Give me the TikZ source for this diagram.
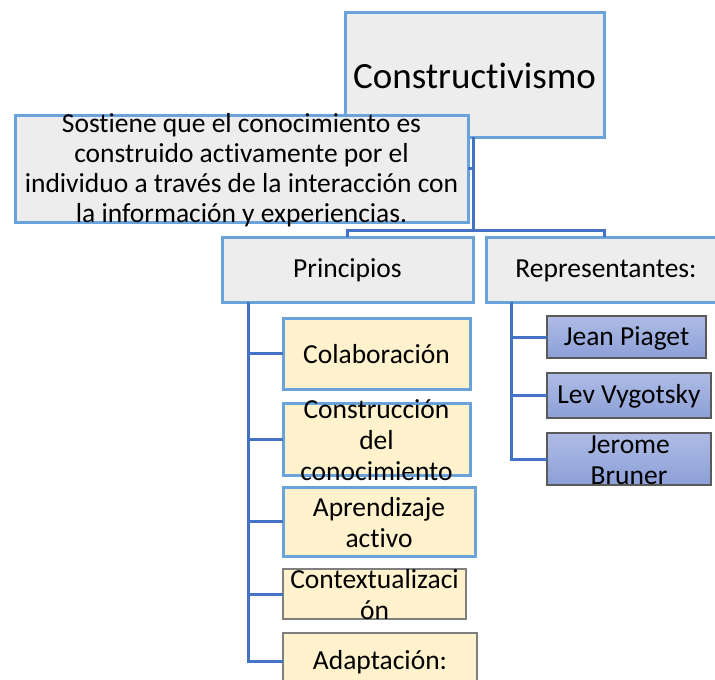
\documentclass[tikz,border=0pt]{standalone}
\usepackage{fontspec}
\setmainfont{Carlito}[Ligatures={NoCommon}]
\definecolor{grayfill}{HTML}{EDEDED}
\definecolor{boxblue}{HTML}{6AA3DA}
\definecolor{yellowfill}{HTML}{FFF2CC}
\definecolor{connblue}{HTML}{4472C4}
\definecolor{ptop}{HTML}{AEBCE5}
\definecolor{pbot}{HTML}{8C9FD7}
\definecolor{pborder}{HTML}{5A5A5A}
\definecolor{gborder}{HTML}{7F7F7F}
\tikzset{
  base/.style={rectangle, inner sep=0pt, outer sep=0pt},
  mainbox/.style={base, draw=boxblue, line width=3pt, fill=grayfill},
  ybox/.style={base, draw=boxblue, line width=3pt, fill=yellowfill},
  ygbox/.style={base, draw=gborder, line width=1.5pt, fill=yellowfill},
  pbox/.style={base, draw=pborder, line width=1.2pt, top color=ptop, bottom color=pbot},
  txt/.style={inner sep=0pt, align=center, font=\fontsize{27.5}{31}\selectfont},
  conn/.style={draw=connblue, line width=3pt},
}
\begin{document}
\begin{tikzpicture}[x=1pt,y=-1pt]
\useasboundingbox (0,0) rectangle (715,680);
\clip (0,0) rectangle (715,680);
% boxes
\node[mainbox, minimum width=259pt, minimum height=125pt] (cons) at (474.5,74.5) {};
\node[mainbox, minimum width=453pt, minimum height=107pt] (sost) at (241.5,168.5) {};
\node[mainbox, minimum width=251pt, minimum height=65pt] (prin) at (347.5,269.5) {};
\node[mainbox, minimum width=236pt, minimum height=65pt] (repr) at (604,269.5) {};
\node[ybox, minimum width=187pt, minimum height=71pt] (col) at (376.5,353.5) {};
\node[ybox, minimum width=187pt, minimum height=72pt] (constr) at (376.5,439) {};
\node[ybox, minimum width=192pt, minimum height=69pt] (apr) at (379,521.5) {};
\node[ygbox, minimum width=183pt, minimum height=50pt] (ctx) at (374.5,594) {};
\node[ygbox, minimum width=194pt, minimum height=57pt] (adap) at (380,661.5) {};
\node[pbox, minimum width=159pt, minimum height=42pt] (jean) at (626.5,337) {};
\node[pbox, minimum width=164pt, minimum height=45pt] (lev) at (629,395.5) {};
\node[pbox, minimum width=164pt, minimum height=52pt] (jer) at (629,459) {};
% texts
\node[txt, font=\fontsize{37}{44}\selectfont] (tcons) at (474.5,75.5) {Constructivismo};
\node[txt, font=\fontsize{27.5}{30}\selectfont] (tsost) at (241.5,170) {Sostiene que el conocimiento es\\construido activamente por el\\individuo a través de la interacción con\\la información y experiencias.};
\node[txt] (tprin) at (347.5,270.5) {Principios};
\node[txt] (trepr) at (606,270.5) {Representantes:};
\node[txt] (tcol) at (376.5,354.5) {Colaboración};
\node[txt] (tconstr) at (376.5,440) {Construcción\\del\\conocimiento};
\node[txt] (tapr) at (379,522.5) {Aprendizaje\\activo};
\node[txt] (tctx) at (374.5,595) {Contextualizaci\\ón};
\node[txt] (tadap) at (380,662.5) {Adaptación:};
\node[txt] (tjean) at (626.5,338) {Jean Piaget};
\node[txt] (tlev) at (629,396.5) {Lev Vygotsky};
\node[txt] (tjer) at (629,460) {Jerome\\Bruner};
% connectors
\coordinate (j) at (473,230);
\coordinate (pl) at (248,302);
\coordinate (rl) at (511,302);
\draw[conn] (cons.south -| j) -- (j);
\draw[conn] (sost.east) -- (sost.east -| j);
\draw[conn] (prin.north) |- (j) -| (repr.north);
\draw[conn] (pl) |- (col.west);
\draw[conn] (pl) |- (constr.west);
\draw[conn] (pl) |- (apr.west);
\draw[conn] (pl) |- (ctx.west);
\draw[conn] (pl) |- (adap.west);
\draw[conn] (rl) |- (jean.west);
\draw[conn] (rl) |- (lev.west);
\draw[conn] (rl) |- (jer.west);
\end{tikzpicture}
\end{document}
